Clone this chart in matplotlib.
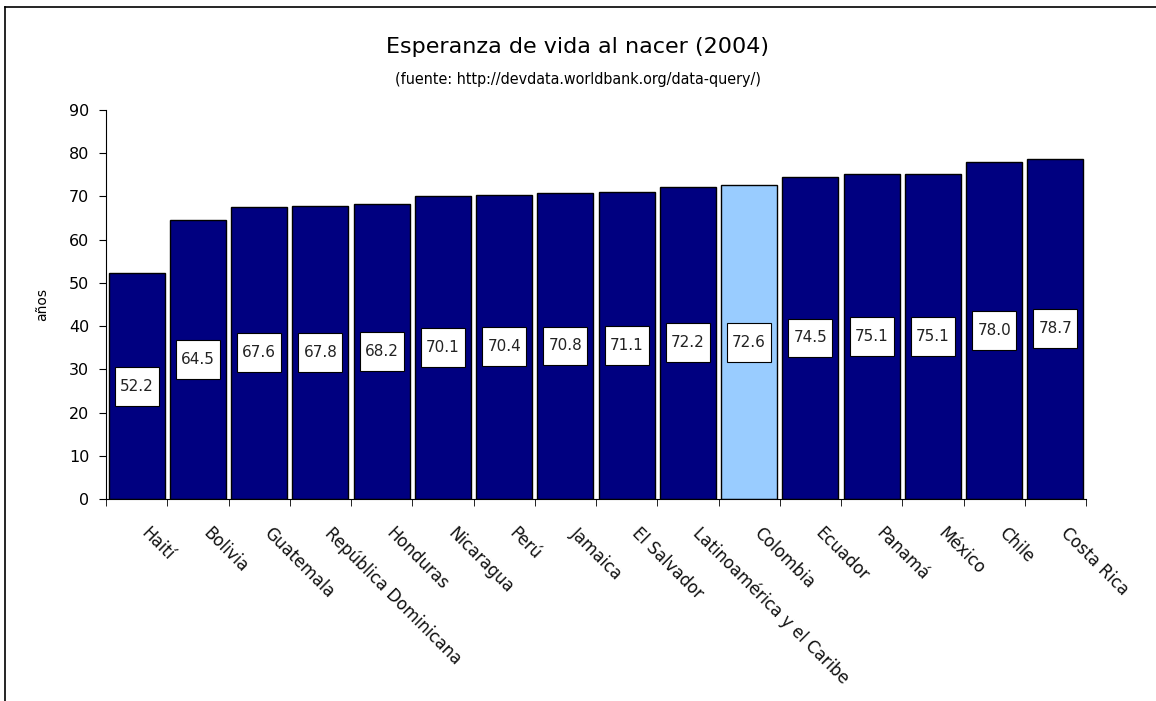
import matplotlib.pyplot as plt
from matplotlib.patches import Rectangle
from matplotlib.lines import Line2D
from matplotlib.transforms import ScaledTranslation

paises = ['Haití', 'Bolivia', 'Guatemala', 'República Dominicana', 'Honduras',
          'Nicaragua', 'Perú', 'Jamaica', 'El Salvador', 'Latinoamérica y el Caribe',
          'Colombia', 'Ecuador', 'Panamá', 'México', 'Chile', 'Costa Rica']
esperanza = [52.2, 64.5, 67.6, 67.8, 68.2, 70.1, 70.4, 70.8, 71.1, 72.2,
             72.6, 74.5, 75.1, 75.1, 78.0, 78.7]
destacado = 'Colombia'

fig = plt.figure(figsize=(11.56, 7.01), dpi=100)
ax = fig.add_axes([0.0917, 0.2882, 0.8478, 0.5549])

colores = ['#99CCFF' if p == destacado else '#000080' for p in paises]
x = range(len(paises))
ax.bar(x, esperanza, width=0.915, color=colores, edgecolor='black', linewidth=1)

# etiquetas de datos en cajas blancas
for i, v in enumerate(esperanza):
    ax.add_patch(Rectangle((i - 0.36, v / 2 - 4.5), 0.72, 9.0, facecolor='white',
                           edgecolor='black', linewidth=0.8, zorder=3))
    ax.text(i, v / 2, f'{v:.1f}', ha='center', va='center', fontsize=11,
            color='#222222', zorder=4)

ax.set_xlim(-0.5, len(paises) - 0.5)
ax.set_ylim(0, 90)
ax.set_yticks(range(0, 91, 10))
ax.tick_params(axis='y', labelsize=11.5, length=5, pad=7, colors='black')

ax.set_xticks(x)
ax.set_xticklabels(paises, rotation=-45, ha='left', va='top',
                   rotation_mode='anchor', fontsize=12, color='#111111')
ax.tick_params(axis='x', length=0, pad=18)
desplaz = ScaledTranslation(14 / 100, 0, fig.dpi_scale_trans)
for lbl in ax.get_xticklabels():
    lbl.set_transform(lbl.get_transform() + desplaz)
ax.set_xticks([i - 0.5 for i in range(len(paises) + 1)], minor=True)
ax.tick_params(axis='x', which='minor', length=5, direction='out')

ax.spines['top'].set_visible(False)
ax.spines['right'].set_visible(False)
ax.set_ylabel('años', fontsize=10, labelpad=14)

fig.text(0.5, 1 - 53 / 701, 'Esperanza de vida al nacer (2004)', ha='center',
         va='baseline', fontsize=16)
fig.text(0.5, 1 - 84 / 701, '(fuente: http://devdata.worldbank.org/data-query/)',
         ha='center', va='baseline', fontsize=11.5, stretch='condensed',
         family=['Liberation Sans Narrow', 'DejaVu Sans Condensed', 'DejaVu Sans'])

# marco del gráfico
fig.add_artist(Line2D([4.5 / 1156, 1], [1 - 6.5 / 701, 1 - 6.5 / 701],
                      color='black', linewidth=1.2, transform=fig.transFigure))
fig.add_artist(Line2D([4.5 / 1156, 4.5 / 1156], [0, 1 - 6.5 / 701],
                      color='black', linewidth=1.2, transform=fig.transFigure))

plt.savefig('out.png', dpi=100)
